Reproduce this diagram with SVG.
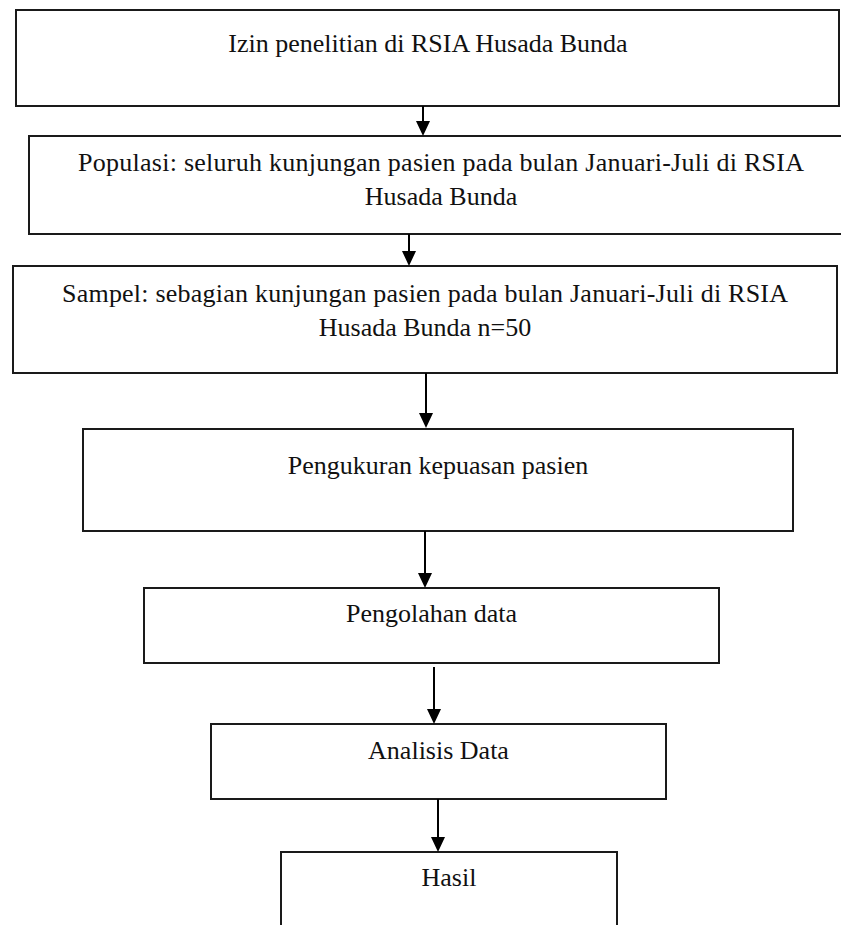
<svg xmlns="http://www.w3.org/2000/svg" width="841" height="925" viewBox="0 0 841 925">
<style>
.box{fill:#fff;stroke:#1a1a1a;stroke-width:2}
.t{font-family:"Liberation Serif","Times New Roman",serif;font-size:26px;fill:#111;text-anchor:middle}
.c{stroke:#000;stroke-width:2;fill:none}
.h{fill:#000}
</style>
<rect width="841" height="925" fill="#fff"/>
<g id="n1"><rect class="box" x="16" y="10" width="823" height="96"/><text class="t" x="428" y="52">Izin penelitian di RSIA Husada Bunda</text></g>
<g id="n2"><rect class="box" x="29" y="136" width="826" height="98"/><text class="t" x="441" y="171" textLength="726" lengthAdjust="spacing">Populasi: seluruh kunjungan pasien pada bulan Januari-Juli di RSIA</text><text class="t" x="441" y="205">Husada Bunda</text></g>
<g id="n3"><rect class="box" x="13" y="266" width="824" height="107"/><text class="t" x="425" y="302" textLength="726" lengthAdjust="spacing">Sampel: sebagian kunjungan pasien pada bulan Januari-Juli di RSIA</text><text class="t" x="425" y="336">Husada Bunda n=50</text></g>
<g id="n4"><rect class="box" x="83" y="429" width="710" height="102"/><text class="t" x="438" y="474">Pengukuran kepuasan pasien</text></g>
<g id="n5"><rect class="box" x="144" y="588" width="575" height="75"/><text class="t" x="431.5" y="622">Pengolahan data</text></g>
<g id="n6"><rect class="box" x="211" y="724" width="455" height="75"/><text class="t" x="438.5" y="759">Analisis Data</text></g>
<g id="n7"><rect class="box" x="281" y="852" width="336" height="90"/><text class="t" x="449" y="886">Hasil</text></g>
<g id="connectors">
<line class="c" x1="423" y1="106" x2="423" y2="122"/><path class="h" d="M416,121 L430,121 L423,136 Z"/>
<line class="c" x1="409" y1="234" x2="409" y2="252"/><path class="h" d="M402,251 L416,251 L409,266 Z"/>
<line class="c" x1="426" y1="373" x2="426" y2="414"/><path class="h" d="M419,413 L433,413 L426,428 Z"/>
<line class="c" x1="425" y1="531" x2="425" y2="574"/><path class="h" d="M418,573 L432,573 L425,588 Z"/>
<line class="c" x1="434" y1="667" x2="434" y2="710"/><path class="h" d="M427,709 L441,709 L434,724 Z"/>
<line class="c" x1="438" y1="799" x2="438" y2="838"/><path class="h" d="M431,837 L445,837 L438,852 Z"/>
</g>
</svg>
